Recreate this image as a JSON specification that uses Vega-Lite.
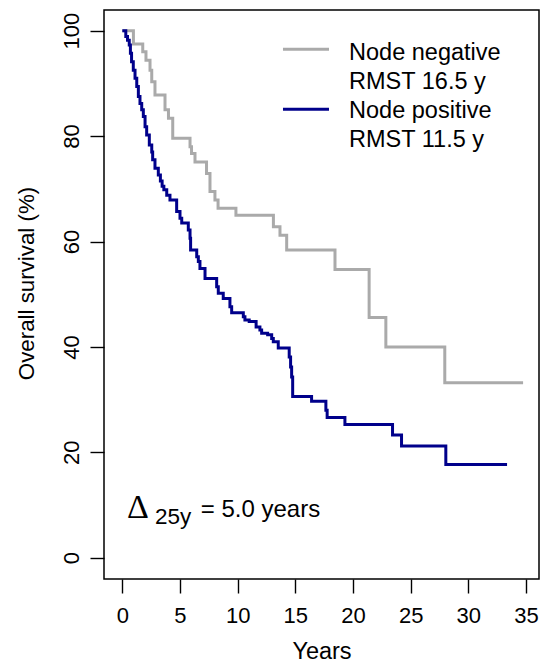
{
  "$schema": "https://vega.github.io/schema/vega-lite/v6.json",
  "width": 435,
  "height": 569,
  "autosize": {"type": "none"},
  "padding": {"left": 104, "top": 10, "right": 5, "bottom": 84},
  "background": "white",
  "config": {
    "view": {"stroke": "black", "strokeWidth": 1.5},
    "font": "Liberation Sans",
    "axis": {
      "domain": false,
      "grid": false,
      "ticks": true,
      "tickColor": "black",
      "tickWidth": 1.4,
      "tickSize": 14,
      "labelColor": "black",
      "labelFont": "Liberation Sans",
      "labelFontSize": 22,
      "titleColor": "black",
      "titleFont": "Liberation Sans",
      "titleFontSize": 23.5,
      "titleFontWeight": "normal"
    }
  },
  "datasets": {
    "km": [
      {"group": "Node negative", "years": 0, "survival": 100},
      {"group": "Node negative", "years": 0.96, "survival": 97.5},
      {"group": "Node negative", "years": 1.77, "survival": 96.0},
      {"group": "Node negative", "years": 2.05, "survival": 94.4},
      {"group": "Node negative", "years": 2.4, "survival": 92.5},
      {"group": "Node negative", "years": 2.55, "survival": 90.3},
      {"group": "Node negative", "years": 2.83, "survival": 87.8},
      {"group": "Node negative", "years": 3.7, "survival": 85.0},
      {"group": "Node negative", "years": 4.0, "survival": 83.4},
      {"group": "Node negative", "years": 4.37, "survival": 79.6},
      {"group": "Node negative", "years": 5.87, "survival": 78.0},
      {"group": "Node negative", "years": 6.0, "survival": 76.7},
      {"group": "Node negative", "years": 6.3, "survival": 75.1},
      {"group": "Node negative", "years": 7.3, "survival": 72.9},
      {"group": "Node negative", "years": 7.6, "survival": 69.5},
      {"group": "Node negative", "years": 8.03, "survival": 67.9},
      {"group": "Node negative", "years": 8.3, "survival": 66.3},
      {"group": "Node negative", "years": 9.85, "survival": 65.0},
      {"group": "Node negative", "years": 13.1, "survival": 62.8},
      {"group": "Node negative", "years": 13.67, "survival": 61.2},
      {"group": "Node negative", "years": 14.25, "survival": 58.4},
      {"group": "Node negative", "years": 18.44, "survival": 54.7},
      {"group": "Node negative", "years": 21.4, "survival": 45.6},
      {"group": "Node negative", "years": 22.85, "survival": 40.0},
      {"group": "Node negative", "years": 27.96, "survival": 33.2},
      {"group": "Node negative", "years": 34.75, "survival": 33.2},
      {"group": "Node positive", "years": 0, "survival": 100},
      {"group": "Node positive", "years": 0.3, "survival": 98.9},
      {"group": "Node positive", "years": 0.45, "survival": 98.2},
      {"group": "Node positive", "years": 0.6, "survival": 97.3},
      {"group": "Node positive", "years": 0.7, "survival": 95.7},
      {"group": "Node positive", "years": 0.8, "survival": 94.1},
      {"group": "Node positive", "years": 0.95, "survival": 92.5},
      {"group": "Node positive", "years": 1.1, "survival": 91.0},
      {"group": "Node positive", "years": 1.25, "survival": 89.4},
      {"group": "Node positive", "years": 1.39, "survival": 87.5},
      {"group": "Node positive", "years": 1.53, "survival": 86.2},
      {"group": "Node positive", "years": 1.68, "survival": 85.0},
      {"group": "Node positive", "years": 1.82, "survival": 83.7},
      {"group": "Node positive", "years": 1.97, "survival": 81.8},
      {"group": "Node positive", "years": 2.11, "survival": 80.2},
      {"group": "Node positive", "years": 2.34, "survival": 78.3},
      {"group": "Node positive", "years": 2.55, "survival": 77.0},
      {"group": "Node positive", "years": 2.63, "survival": 75.5},
      {"group": "Node positive", "years": 2.83, "survival": 73.9},
      {"group": "Node positive", "years": 3.12, "survival": 72.6},
      {"group": "Node positive", "years": 3.3, "survival": 71.5},
      {"group": "Node positive", "years": 3.45, "survival": 70.5},
      {"group": "Node positive", "years": 3.6, "survival": 69.8},
      {"group": "Node positive", "years": 3.85, "survival": 68.8},
      {"group": "Node positive", "years": 4.13, "survival": 67.9},
      {"group": "Node positive", "years": 4.71, "survival": 65.7},
      {"group": "Node positive", "years": 5.0, "survival": 64.4},
      {"group": "Node positive", "years": 5.15, "survival": 63.5},
      {"group": "Node positive", "years": 5.72, "survival": 62.2},
      {"group": "Node positive", "years": 5.87, "survival": 60.6},
      {"group": "Node positive", "years": 5.92, "survival": 58.4},
      {"group": "Node positive", "years": 6.45, "survival": 57.1},
      {"group": "Node positive", "years": 6.59, "survival": 56.2},
      {"group": "Node positive", "years": 6.73, "survival": 54.9},
      {"group": "Node positive", "years": 7.17, "survival": 53.0},
      {"group": "Node positive", "years": 8.18, "survival": 51.4},
      {"group": "Node positive", "years": 8.32, "survival": 50.2},
      {"group": "Node positive", "years": 8.75, "survival": 49.2},
      {"group": "Node positive", "years": 9.33, "survival": 47.6},
      {"group": "Node positive", "years": 9.48, "survival": 46.5},
      {"group": "Node positive", "years": 10.49, "survival": 45.7},
      {"group": "Node positive", "years": 10.63, "survival": 45.1},
      {"group": "Node positive", "years": 11.0, "survival": 44.8},
      {"group": "Node positive", "years": 11.6, "survival": 43.8},
      {"group": "Node positive", "years": 11.93, "survival": 43.2},
      {"group": "Node positive", "years": 12.08, "survival": 42.6},
      {"group": "Node positive", "years": 12.6, "survival": 42.3},
      {"group": "Node positive", "years": 12.95, "survival": 41.6},
      {"group": "Node positive", "years": 13.09, "survival": 41.0},
      {"group": "Node positive", "years": 13.52, "survival": 39.8},
      {"group": "Node positive", "years": 14.47, "survival": 38.1},
      {"group": "Node positive", "years": 14.59, "survival": 36.2},
      {"group": "Node positive", "years": 14.68, "survival": 34.3},
      {"group": "Node positive", "years": 14.77, "survival": 30.6},
      {"group": "Node positive", "years": 16.41, "survival": 29.7},
      {"group": "Node positive", "years": 17.65, "survival": 28.0},
      {"group": "Node positive", "years": 17.76, "survival": 26.6},
      {"group": "Node positive", "years": 19.3, "survival": 25.3},
      {"group": "Node positive", "years": 23.43, "survival": 23.3},
      {"group": "Node positive", "years": 24.21, "survival": 21.2},
      {"group": "Node positive", "years": 28.05, "survival": 17.7},
      {"group": "Node positive", "years": 33.36, "survival": 17.7}
    ],
    "legendLines": [
      {"group": "Node negative", "years": 13.93, "years_end": 17.92, "survival": 96.5},
      {"group": "Node positive", "years": 13.93, "years_end": 17.92, "survival": 85.1}
    ],
    "legendText": [
      {"label": "Node negative", "years": 19.66, "survival": 94.4},
      {"label": "RMST 16.5 y", "years": 19.66, "survival": 88.9},
      {"label": "Node positive", "years": 19.66, "survival": 83.4},
      {"label": "RMST 11.5 y", "years": 19.66, "survival": 77.9}
    ]
  },
  "encoding": {
    "x": {
      "field": "years",
      "type": "quantitative",
      "scale": {"domain": [-1.59, 36.13], "nice": false, "zero": false},
      "axis": {
        "values": [0, 5, 10, 15, 20, 25, 30, 35],
        "title": "Years",
        "labelPadding": 12,
        "titlePadding": 13
      }
    },
    "y": {
      "field": "survival",
      "type": "quantitative",
      "scale": {"domain": [-4.04, 103.93], "nice": false, "zero": false},
      "axis": {
        "values": [0, 20, 40, 60, 80, 100],
        "title": "Overall survival (%)",
        "titleFontSize": 22.3,
        "titleY": 273,
        "labelAngle": 270,
        "labelAlign": "center",
        "labelBaseline": "alphabetic",
        "labelPadding": 12,
        "titlePadding": 22
      }
    }
  },
  "layer": [
    {
      "data": {"name": "km"},
      "mark": {"type": "line", "interpolate": "step-after", "strokeWidth": 3},
      "encoding": {
        "color": {
          "field": "group",
          "type": "nominal",
          "scale": {"domain": ["Node negative", "Node positive"], "range": ["#AAAAAA", "#00008B"]},
          "legend": null
        }
      }
    },
    {
      "data": {"name": "legendLines"},
      "mark": {"type": "rule", "strokeWidth": 3},
      "encoding": {
        "x2": {"field": "years_end"},
        "color": {"field": "group", "type": "nominal", "legend": null}
      }
    },
    {
      "data": {"name": "legendText"},
      "mark": {"type": "text", "align": "left", "baseline": "alphabetic", "fontSize": 23.5, "font": "Liberation Sans", "color": "black"},
      "encoding": {"text": {"field": "label"}}
    },
    {
      "data": {"values": [{"label": "Δ", "years": 0.41, "survival": 7.5}]},
      "mark": {"type": "text", "align": "left", "baseline": "alphabetic", "fontSize": 34, "font": "Liberation Serif", "color": "black"},
      "encoding": {"text": {"field": "label"}}
    },
    {
      "data": {"values": [{"label": "25y", "years": 2.83, "survival": 6.4}]},
      "mark": {"type": "text", "align": "left", "baseline": "alphabetic", "fontSize": 22.5, "font": "Liberation Sans", "color": "black"},
      "encoding": {"text": {"field": "label"}}
    },
    {
      "data": {"values": [{"label": "= 5.0 years", "years": 6.8, "survival": 7.8}]},
      "mark": {"type": "text", "align": "left", "baseline": "alphabetic", "fontSize": 24, "font": "Liberation Sans", "color": "black"},
      "encoding": {"text": {"field": "label"}}
    }
  ]
}
